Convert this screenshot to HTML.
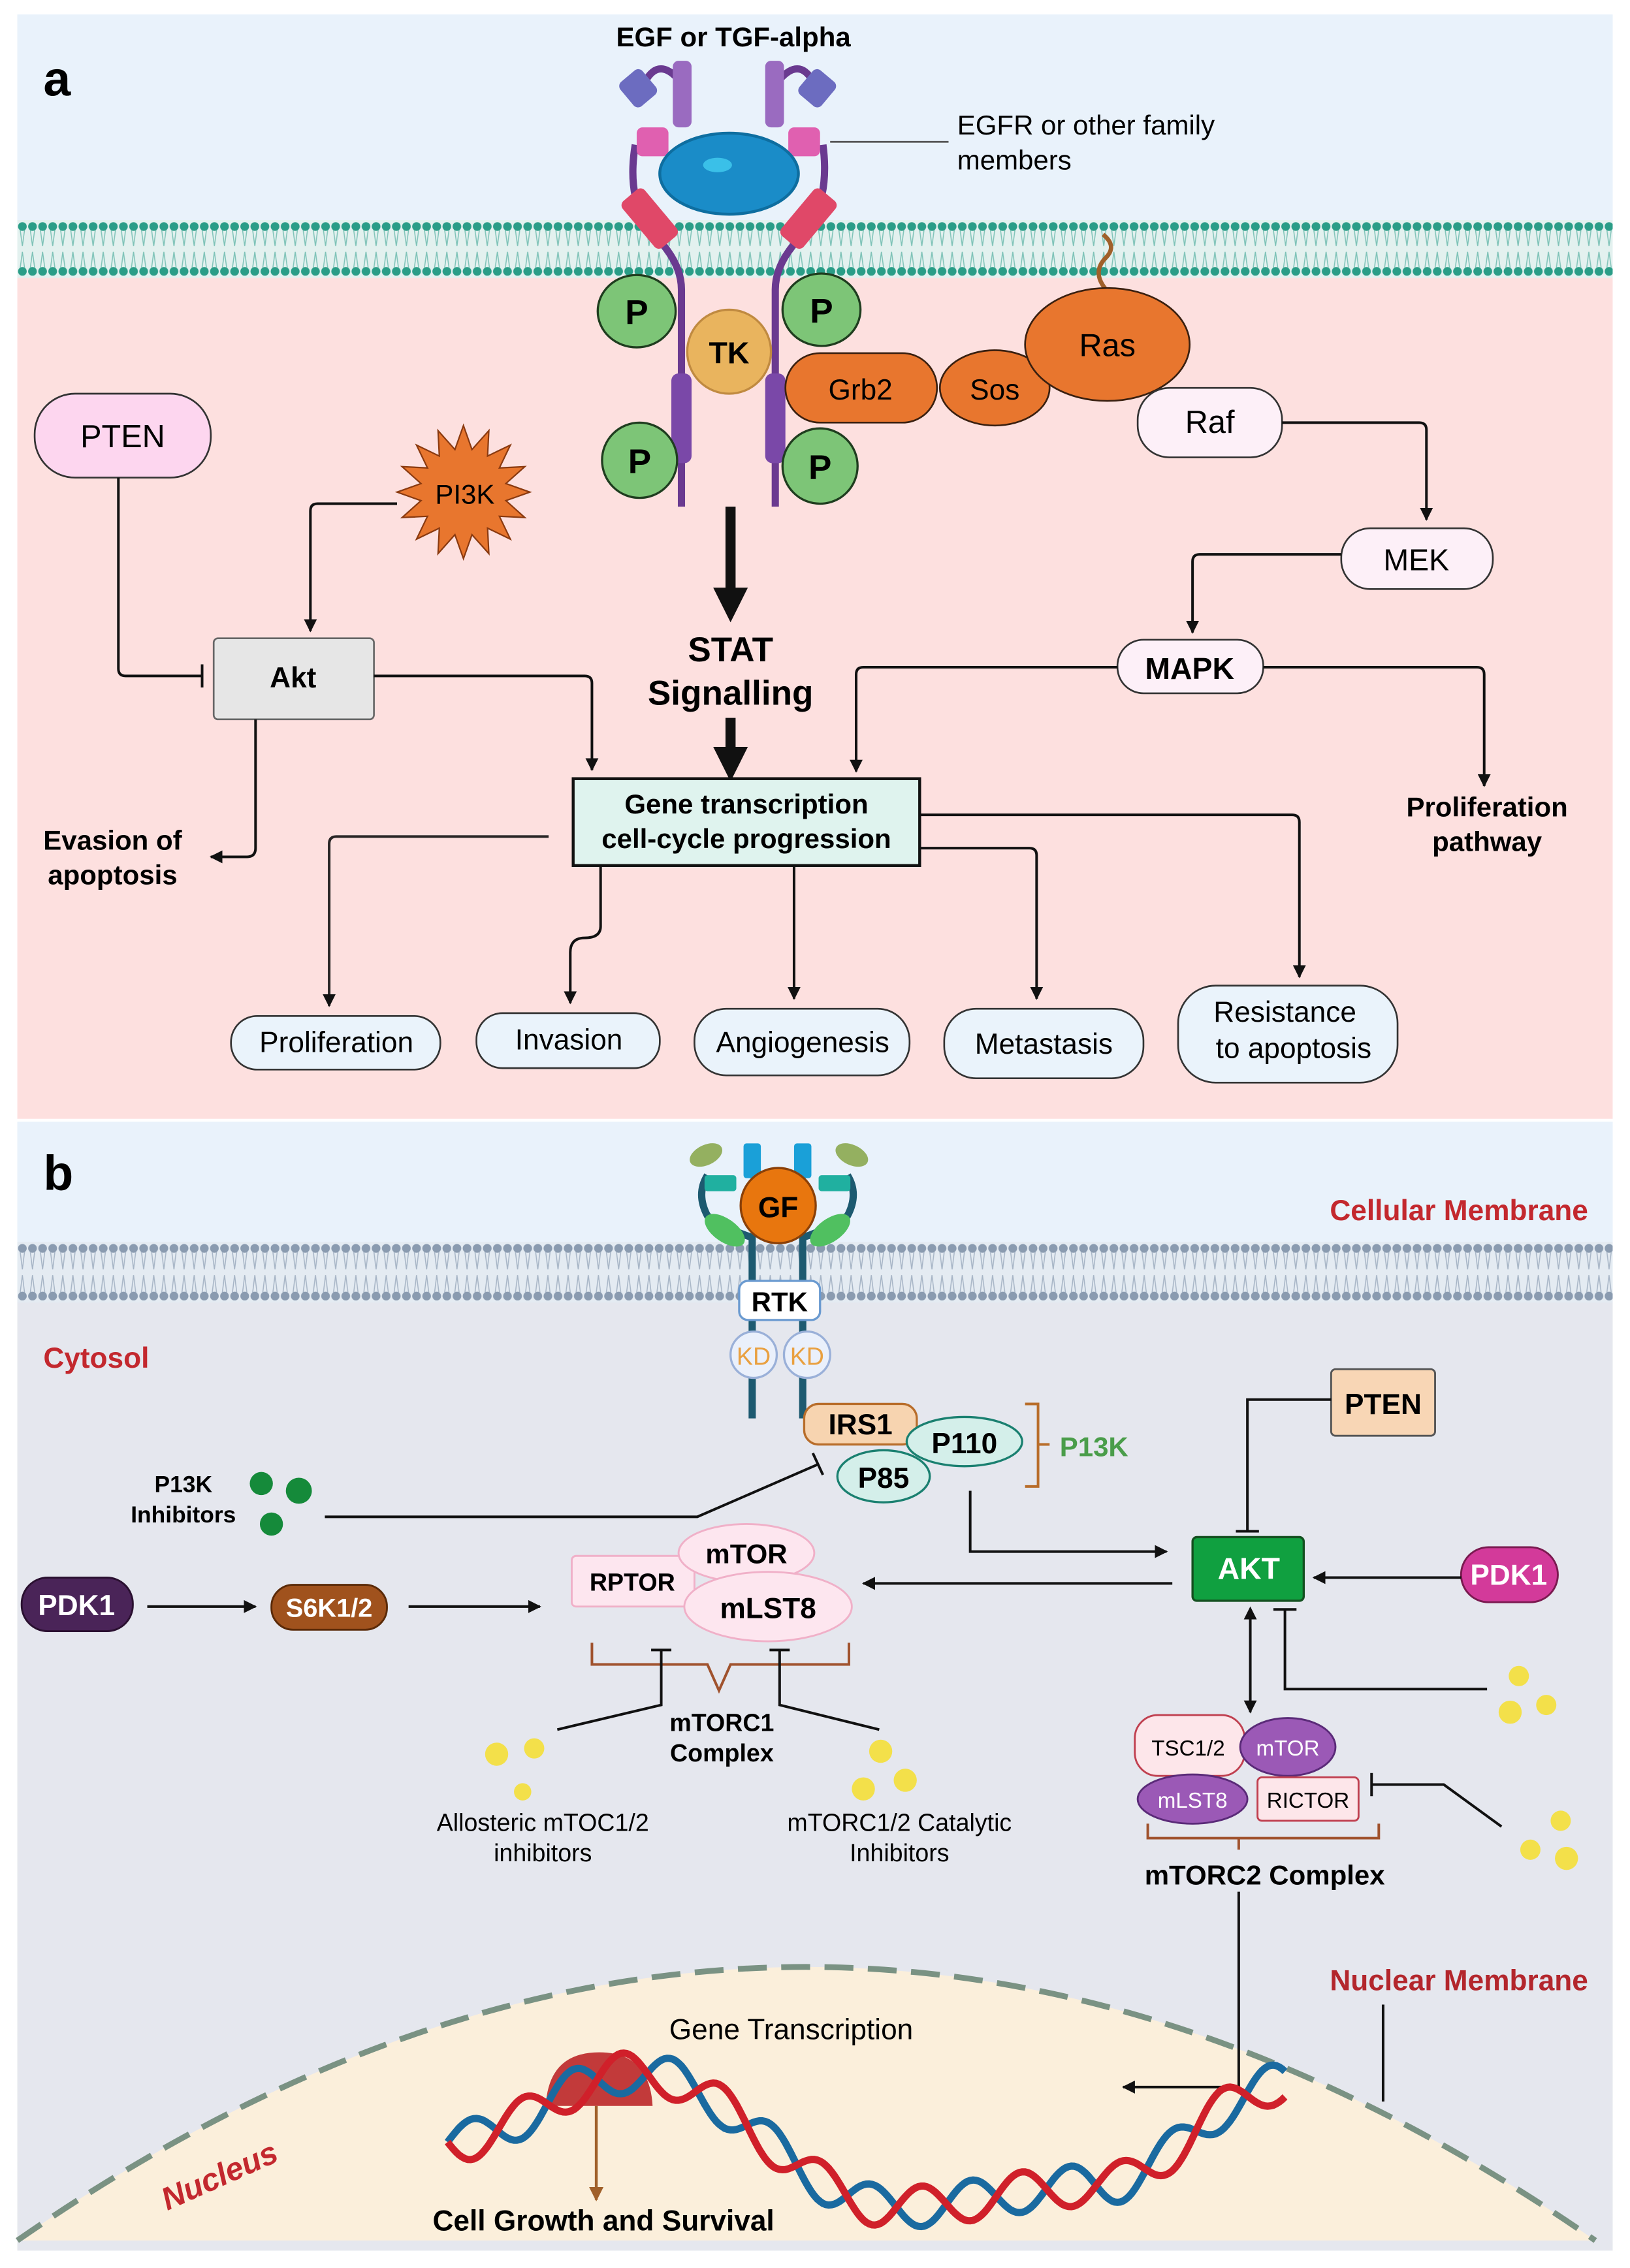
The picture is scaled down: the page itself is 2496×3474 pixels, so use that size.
<!DOCTYPE html>
<html><head><meta charset="utf-8"><style>
html,body{margin:0;padding:0;background:#fff}
svg{display:block}
text{font-family:"Liberation Sans Narrow","Liberation Sans",sans-serif}
.b{font-weight:bold}
</style></head><body>
<svg id="s" width="2496" height="3474" viewBox="0 0 1129 1567" preserveAspectRatio="none" xmlns="http://www.w3.org/2000/svg">
<defs>
<pattern id="memA" x="12" y="152" width="7" height="40" patternUnits="userSpaceOnUse">
<rect width="7" height="40" fill="#e3f1ef"/>
<path d="M2,7 L3.5,18 M5,7 L3.5,18 M2,33 L3.5,22 M5,33 L3.5,22" stroke="#7fc3b8" stroke-width="0.7" fill="none"/>
<circle cx="3.5" cy="4.5" r="3" fill="#2a9d87"/><circle cx="3.5" cy="35.5" r="3" fill="#2a9d87"/>
</pattern>
<pattern id="memB" x="12" y="858" width="7" height="42" patternUnits="userSpaceOnUse">
<rect width="7" height="42" fill="#e4ebf2"/>
<path d="M2,7 L3.5,19 M5,7 L3.5,19 M2,35 L3.5,23 M5,35 L3.5,23" stroke="#a7b5c6" stroke-width="0.7" fill="none"/>
<circle cx="3.5" cy="4.5" r="3" fill="#8a9bb0"/><circle cx="3.5" cy="37.5" r="3" fill="#8a9bb0"/>
</pattern>
<marker id="ar" viewBox="0 0 10 10" refX="9" refY="5" markerWidth="5" markerHeight="5" orient="auto"><path d="M0,0 L10,5 L0,10 z" fill="#111"/></marker>
<marker id="arB" viewBox="0 0 10 10" refX="9" refY="5" markerWidth="5" markerHeight="5" orient="auto"><path d="M0,0 L10,5 L0,10 z" fill="#a0602a"/></marker>
<marker id="arS" viewBox="0 0 10 10" refX="1" refY="5" markerWidth="5" markerHeight="5" orient="auto-start-reverse"><path d="M0,0 L10,5 L0,10 z" fill="#111"/></marker>
</defs>

<!-- PANEL A -->
<rect x="12" y="10" width="1105" height="145" fill="#e9f2fb"/>
<rect x="12" y="190" width="1105" height="583" fill="#fde0df"/>
<rect x="12" y="152" width="1105" height="40" fill="url(#memA)"/>

<text x="30" y="66" class="b" font-size="34">a</text>
<text x="508" y="32" class="b" font-size="19" text-anchor="middle">EGF or TGF-alpha</text>
<line x1="575" y1="98" x2="657" y2="98" stroke="#555" stroke-width="1.2"/>
<text x="663" y="93" font-size="19">EGFR or other family</text>
<text x="663" y="117" font-size="19">members</text>

<!-- receptor -->
<g stroke="#6a3a90" stroke-width="5" fill="none">
<path d="M472,350 L472,200 Q472,185 460,170 L445,150 Q435,130 440,100"/>
<path d="M537,350 L537,200 Q537,185 549,170 L564,150 Q574,130 570,100"/>
<path d="M445,60 Q455,38 470,55"/><path d="M565,60 Q555,38 540,55"/>
</g>
<rect x="466" y="42" width="13" height="46" rx="4" fill="#9a6bc0"/>
<rect x="530" y="42" width="13" height="46" rx="4" fill="#9a6bc0"/>
<rect x="432" y="50" width="20" height="22" rx="4" fill="#6c6cc0" transform="rotate(-40 442 61)"/>
<rect x="556" y="50" width="20" height="22" rx="4" fill="#6c6cc0" transform="rotate(40 566 61)"/>
<rect x="441" y="88" width="22" height="20" rx="4" fill="#e060b0"/>
<rect x="546" y="88" width="22" height="20" rx="4" fill="#e060b0"/>
<rect x="440" y="130" width="20" height="42" rx="4" fill="#e04868" transform="rotate(-40 450 151)"/>
<rect x="550" y="130" width="20" height="42" rx="4" fill="#e04868" transform="rotate(40 560 151)"/>
<ellipse cx="505" cy="120" rx="48" ry="28" fill="#1a8cc8" stroke="#0e6ea0" stroke-width="2"/>
<ellipse cx="497" cy="114" rx="10" ry="5" fill="#3ac0e8"/>
<rect x="465" y="258" width="14" height="62" rx="5" fill="#7a48a8"/>
<rect x="530" y="258" width="14" height="62" rx="5" fill="#7a48a8"/>

<g stroke="#1f3d1f" stroke-width="1.5" fill="#7dc577">
<ellipse cx="441" cy="215" rx="27" ry="25"/><ellipse cx="569" cy="214" rx="27" ry="25"/>
<ellipse cx="443" cy="318" rx="26" ry="26"/><ellipse cx="568" cy="322" rx="26" ry="26"/>
</g>
<g class="b" font-size="24" text-anchor="middle">
<text x="441" y="224">P</text><text x="569" y="223">P</text><text x="443" y="327">P</text><text x="568" y="331">P</text>
</g>
<circle cx="505" cy="243" r="29" fill="#e9b45e" stroke="#c08a40" stroke-width="1.5"/>
<text x="505" y="251" class="b" font-size="21" text-anchor="middle">TK</text>

<path d="M766,200 Q756,188 766,178 Q774,170 764,162" stroke="#a0602a" stroke-width="3" fill="none"/>
<rect x="544" y="244" width="105" height="48" rx="24" fill="#e8762e" stroke="#3a2010" stroke-width="1.2"/>
<text x="596" y="276" font-size="20" text-anchor="middle">Grb2</text>
<ellipse cx="689" cy="268" rx="38" ry="26" fill="#e8762e" stroke="#3a2010" stroke-width="1.2"/>
<text x="689" y="276" font-size="20" text-anchor="middle">Sos</text>
<ellipse cx="767" cy="238" rx="57" ry="39" fill="#e8762e" stroke="#3a2010" stroke-width="1.2"/>
<text x="767" y="246" font-size="22" text-anchor="middle">Ras</text>
<rect x="788" y="268" width="100" height="48" rx="22" fill="#fdf0f8" stroke="#333" stroke-width="1.2"/>
<text x="838" y="299" font-size="22" text-anchor="middle">Raf</text>

<rect x="24" y="272" width="122" height="58" rx="28" fill="#fdd6ef" stroke="#333" stroke-width="1.2"/>
<text x="85" y="309" font-size="22" text-anchor="middle">PTEN</text>
<path id="star" fill="#e8762e" stroke="#8a3a10" stroke-width="1"/>
<text x="322" y="348" font-size="19" text-anchor="middle">PI3K</text>
<rect x="148" y="441" width="111" height="56" rx="3" fill="#e6e6e6" stroke="#666" stroke-width="1.2"/>
<text x="203" y="475" class="b" font-size="20" text-anchor="middle">Akt</text>
<rect x="929" y="365" width="105" height="42" rx="20" fill="#fdf0f8" stroke="#333" stroke-width="1.2"/>
<text x="981" y="394" font-size="21" text-anchor="middle">MEK</text>
<rect x="774" y="442" width="101" height="37" rx="18" fill="#fdf0f8" stroke="#333" stroke-width="1.2"/>
<text x="824" y="469" class="b" font-size="21" text-anchor="middle">MAPK</text>

<text x="506" y="457" class="b" font-size="24" text-anchor="middle">STAT</text>
<text x="506" y="487" class="b" font-size="24" text-anchor="middle">Signalling</text>
<line x1="506" y1="350" x2="506" y2="410" stroke="#111" stroke-width="7"/>
<path d="M494,406 L518,406 L506,430 z" fill="#111"/>
<line x1="506" y1="496" x2="506" y2="520" stroke="#111" stroke-width="7"/>
<path d="M494,516 L518,516 L506,540 z" fill="#111"/>

<rect x="397" y="538" width="240" height="60" fill="#dff3ee" stroke="#111" stroke-width="2"/>
<text x="517" y="562" class="b" font-size="19" text-anchor="middle">Gene transcription</text>
<text x="517" y="586" class="b" font-size="19" text-anchor="middle">cell-cycle progression</text>
<text x="78" y="587" class="b" font-size="19" text-anchor="middle">Evasion of</text>
<text x="78" y="611" class="b" font-size="19" text-anchor="middle">apoptosis</text>
<text x="1030" y="564" class="b" font-size="19" text-anchor="middle">Proliferation</text>
<text x="1030" y="588" class="b" font-size="19" text-anchor="middle">pathway</text>

<g fill="#eaf3fb" stroke="#333" stroke-width="1.2">
<rect x="160" y="702" width="145" height="37" rx="18"/>
<rect x="330" y="700" width="127" height="38" rx="18"/>
<rect x="481" y="697" width="149" height="46" rx="22"/>
<rect x="654" y="697" width="138" height="48" rx="22"/>
<rect x="816" y="681" width="152" height="67" rx="26"/>
</g>
<g font-size="20" text-anchor="middle">
<text x="233" y="727">Proliferation</text>
<text x="394" y="725">Invasion</text>
<text x="556" y="727">Angiogenesis</text>
<text x="723" y="728">Metastasis</text>
<text x="890" y="706">Resistance</text>
<text x="896" y="731">to apoptosis</text>
</g>

<g stroke="#111" stroke-width="1.8" fill="none">
<path d="M82,330 L82,462 Q82,467 87,467 L140,467"/>
<line x1="140" y1="459" x2="140" y2="475"/>
<path d="M275,348 L220,348 Q215,348 215,353 L215,436" marker-end="url(#ar)"/>
<path d="M259,467 L405,467 Q410,467 410,472 L410,532" marker-end="url(#ar)"/>
<path d="M177,497 L177,586 Q177,592 171,592 L146,592" marker-end="url(#ar)"/>
<path d="M888,292 L983,292 Q988,292 988,297 L988,359" marker-end="url(#ar)"/>
<path d="M929,383 L831,383 Q826,383 826,388 L826,437" marker-end="url(#ar)"/>
<path d="M774,461 L598,461 Q593,461 593,466 L593,533" marker-end="url(#ar)"/>
<path d="M875,461 L1023,461 Q1028,461 1028,466 L1028,543" marker-end="url(#ar)"/>
<path d="M380,578 L233,578 Q228,578 228,583 L228,695" marker-end="url(#ar)" stroke-opacity="0.9"/>
<path d="M416,598 L416,640 Q416,648 405,648 Q395,648 395,658 L395,693" marker-end="url(#ar)"/>
<path d="M550,598 L550,690" marker-end="url(#ar)"/>
<path d="M637,586 L713,586 Q718,586 718,591 L718,690" marker-end="url(#ar)"/>
<path d="M637,563 L895,563 Q900,563 900,568 L900,675" marker-end="url(#ar)"/>
</g>

<!-- PANEL B -->
<rect x="12" y="775" width="1105" height="85" fill="#e9f2fb"/>
<rect x="12" y="898" width="1105" height="657" fill="#e5e7ee"/>
<rect x="12" y="858" width="1105" height="42" fill="url(#memB)"/>
<path d="M12,1548 Q558,1170 1105,1548 Z" fill="#fbefdb"/>
<path d="M12,1548 Q558,1170 1105,1548" fill="none" stroke="#7a9283" stroke-width="4" stroke-dasharray="20 10"/>

<text x="30" y="822" class="b" font-size="34">b</text>
<text x="1100" y="843" class="b" font-size="20" fill="#c3282e" text-anchor="end">Cellular Membrane</text>
<text x="30" y="945" class="b" font-size="20" fill="#c3282e">Cytosol</text>

<!-- RTK receptor -->
<g stroke="#1d5a70" stroke-width="5" fill="none">
<path d="M521,980 L521,855 Q505,850 490,840 Q482,825 490,812"/>
<path d="M556,980 L556,855 Q572,850 587,840 Q595,825 587,812"/>
</g>
<ellipse cx="489" cy="798" rx="12" ry="7" fill="#94b060" transform="rotate(-25 489 798)"/>
<ellipse cx="590" cy="798" rx="12" ry="7" fill="#94b060" transform="rotate(25 590 798)"/>
<rect x="515" y="790" width="12" height="24" rx="2" fill="#1aa0d8"/>
<rect x="550" y="790" width="12" height="24" rx="2" fill="#1aa0d8"/>
<rect x="488" y="812" width="22" height="11" rx="2" fill="#20b0a0"/>
<rect x="567" y="812" width="22" height="11" rx="2" fill="#20b0a0"/>
<ellipse cx="502" cy="850" rx="16" ry="8" fill="#50c060" transform="rotate(35 502 850)"/>
<ellipse cx="575" cy="850" rx="16" ry="8" fill="#50c060" transform="rotate(-35 575 850)"/>
<circle cx="539" cy="833" r="26" fill="#e8760e" stroke="#8a4008" stroke-width="1.5"/>
<text x="539" y="841" class="b" font-size="20" text-anchor="middle">GF</text>
<rect x="512" y="885" width="56" height="27" rx="6" fill="#fff" stroke="#6a9ad0" stroke-width="1.5"/>
<text x="540" y="906" class="b" font-size="19" text-anchor="middle">RTK</text>
<circle cx="522" cy="936" r="16" fill="#eaf0fb" stroke="#9ab0d8" stroke-width="1.5"/>
<circle cx="559" cy="936" r="16" fill="#eaf0fb" stroke="#9ab0d8" stroke-width="1.5"/>
<text x="522" y="943" font-size="17" fill="#e9a040" text-anchor="middle">KD</text>
<text x="559" y="943" font-size="17" fill="#e9a040" text-anchor="middle">KD</text>

<rect x="557" y="970" width="78" height="28" rx="10" fill="#f7d4b0" stroke="#b86d2a" stroke-width="1.5"/>
<text x="596" y="991" class="b" font-size="20" text-anchor="middle">IRS1</text>
<ellipse cx="668" cy="996" rx="40" ry="17" fill="#d4efea" stroke="#1a8070" stroke-width="1.5"/>
<text x="668" y="1004" class="b" font-size="20" text-anchor="middle">P110</text>
<ellipse cx="612" cy="1020" rx="32" ry="18" fill="#d4efea" stroke="#1a8070" stroke-width="1.5"/>
<text x="612" y="1028" class="b" font-size="20" text-anchor="middle">P85</text>
<path d="M710,970 L719,970 L719,1027 L710,1027 M719,998 L727,998" stroke="#b86d2a" stroke-width="1.8" fill="none"/>
<text x="734" y="1006" class="b" font-size="19" fill="#4a9d4a">P13K</text>

<rect x="922" y="946" width="72" height="46" rx="3" fill="#f8d6b5" stroke="#555" stroke-width="1.3"/>
<text x="958" y="977" class="b" font-size="20" text-anchor="middle">PTEN</text>

<text x="127" y="1031" class="b" font-size="16" text-anchor="middle">P13K</text>
<text x="127" y="1052" class="b" font-size="16" text-anchor="middle">Inhibitors</text>
<g fill="#158a3a"><circle cx="181" cy="1025" r="8"/><circle cx="207" cy="1030" r="9"/><circle cx="188" cy="1053" r="8"/></g>

<rect x="826" y="1062" width="77" height="44" rx="3" fill="#10a040" stroke="#145020" stroke-width="1.5"/>
<text x="865" y="1091" class="b" font-size="21" fill="#fff" text-anchor="middle">AKT</text>
<rect x="1012" y="1069" width="67" height="38" rx="19" fill="#d33a9a" stroke="#7a1a50" stroke-width="1.3"/>
<text x="1045" y="1095" class="b" font-size="20" fill="#fff" text-anchor="middle">PDK1</text>
<rect x="15" y="1090" width="77" height="37" rx="18" fill="#4a2458" stroke="#2a1030" stroke-width="1.3"/>
<text x="53" y="1116" class="b" font-size="20" fill="#fff" text-anchor="middle">PDK1</text>
<rect x="188" y="1095" width="80" height="31" rx="15" fill="#a0521d" stroke="#5a2a08" stroke-width="1.3"/>
<text x="228" y="1117" class="b" font-size="18" fill="#fff" text-anchor="middle">S6K1/2</text>

<rect x="396" y="1075" width="85" height="35" rx="3" fill="#fde6ef" stroke="#f0b0c8" stroke-width="1.3"/>
<text x="438" y="1099" class="b" font-size="17" text-anchor="middle">RPTOR</text>
<ellipse cx="517" cy="1073" rx="47" ry="20" fill="#fde6ef" stroke="#f0b0c8" stroke-width="1.3"/>
<text x="517" y="1080" class="b" font-size="19" text-anchor="middle">mTOR</text>
<ellipse cx="532" cy="1110" rx="58" ry="24" fill="#fde6ef" stroke="#f0b0c8" stroke-width="1.3"/>
<text x="532" y="1118" class="b" font-size="20" text-anchor="middle">mLST8</text>
<path d="M410,1135 L410,1150 L490,1150 L498,1168 L506,1150 L588,1150 L588,1135" stroke="#a0522d" stroke-width="1.8" fill="none"/>
<text x="500" y="1196" class="b" font-size="17" text-anchor="middle">mTORC1</text>
<text x="500" y="1217" class="b" font-size="17" text-anchor="middle">Complex</text>
<g fill="#f3e04a"><circle cx="344" cy="1212" r="8"/><circle cx="370" cy="1208" r="7"/><circle cx="362" cy="1238" r="6"/>
<circle cx="610" cy="1210" r="8"/><circle cx="598" cy="1236" r="8"/><circle cx="627" cy="1230" r="8"/>
<circle cx="1052" cy="1158" r="7"/><circle cx="1046" cy="1183" r="8"/><circle cx="1071" cy="1178" r="7"/>
<circle cx="1081" cy="1258" r="7"/><circle cx="1060" cy="1278" r="7"/><circle cx="1085" cy="1284" r="8"/></g>
<text x="376" y="1265" font-size="17" text-anchor="middle">Allosteric mTOC1/2</text>
<text x="376" y="1286" font-size="17" text-anchor="middle">inhibitors</text>
<text x="623" y="1265" font-size="17" text-anchor="middle">mTORC1/2 Catalytic</text>
<text x="623" y="1286" font-size="17" text-anchor="middle">Inhibitors</text>

<rect x="786" y="1185" width="76" height="42" rx="16" fill="#fde6ea" stroke="#c04050" stroke-width="1.3"/>
<text x="823" y="1213" font-size="15" text-anchor="middle">TSC1/2</text>
<ellipse cx="892" cy="1207" rx="33" ry="20" fill="#9b59b6" stroke="#5a2a78" stroke-width="1.3"/>
<text x="892" y="1213" font-size="15" fill="#fff" text-anchor="middle">mTOR</text>
<ellipse cx="826" cy="1243" rx="38" ry="17" fill="#9b59b6" stroke="#5a2a78" stroke-width="1.3"/>
<text x="826" y="1249" font-size="15" fill="#fff" text-anchor="middle">mLST8</text>
<rect x="871" y="1228" width="70" height="30" rx="3" fill="#fde6ea" stroke="#c04050" stroke-width="1.3"/>
<text x="906" y="1249" font-size="15" text-anchor="middle">RICTOR</text>
<path d="M795,1260 L795,1270 L955,1270 L955,1260 M858,1270 L858,1278" stroke="#a0522d" stroke-width="1.8" fill="none"/>
<text x="876" y="1302" class="b" font-size="19" text-anchor="middle">mTORC2 Complex</text>

<g stroke="#111" stroke-width="1.8" fill="none">
<path d="M225,1048 L483,1048 L566,1012"/><line x1="563" y1="1004" x2="570" y2="1019"/>
<path d="M922,967 L864,967 L864,1058"/><line x1="856" y1="1058" x2="872" y2="1058"/>
<path d="M672,1030 L672,1072 L808,1072" marker-end="url(#ar)"/>
<path d="M1012,1090 L910,1090" marker-end="url(#ar)"/>
<path d="M812,1094 L598,1094" marker-end="url(#ar)"/>
<path d="M102,1110 L177,1110" marker-end="url(#ar)"/>
<path d="M283,1110 L374,1110" marker-end="url(#ar)"/>
<path d="M458,1140 L458,1178 L386,1195"/><line x1="451" y1="1140" x2="465" y2="1140"/>
<path d="M540,1140 L540,1178 L609,1195"/><line x1="533" y1="1140" x2="547" y2="1140"/>
<path d="M866,1118 L866,1183" marker-end="url(#ar)" marker-start="url(#arS)"/>
<path d="M890,1112 L890,1167 L1030,1167"/><line x1="882" y1="1112" x2="898" y2="1112"/>
<path d="M950,1233 L1000,1233 L1040,1262"/><line x1="950" y1="1225" x2="950" y2="1241"/>
<path d="M858,1307 L858,1442 L778,1442" marker-end="url(#ar)"/>
<line x1="958" y1="1385" x2="958" y2="1452"/>
</g>
<text x="1100" y="1375" class="b" font-size="20" fill="#b3262c" text-anchor="end">Nuclear Membrane</text>
<text x="155" y="1510" class="b" font-size="22" fill="#c3282e" font-style="italic" transform="rotate(-24 155 1510)" text-anchor="middle">Nucleus</text>
<text x="548" y="1409" font-size="20" text-anchor="middle">Gene Transcription</text>
<path d="M378,1455 Q380,1418 415,1418 Q450,1418 452,1455 Z" fill="#c23a3a"/>
<path id="dnaB" fill="none" stroke="#1a6aa0" stroke-width="5"/>
<path id="dnaR" fill="none" stroke="#d0202a" stroke-width="5"/>
<path d="M413,1455 L413,1520" stroke="#a0602a" stroke-width="2" marker-end="url(#arB)"/>
<text x="418" y="1541" class="b" font-size="20" text-anchor="middle">Cell Growth and Survival</text>
</svg>
<script>
(function(){
 // star
 var s="",cx=321,cy=340,n=16;
 for(var i=0;i<2*n;i++){var a=Math.PI*i/n,r=(i%2?30:46);s+=(i?"L":"M")+(cx+r*Math.cos(a)).toFixed(1)+","+(cy+r*Math.sin(a)).toFixed(1);}
 document.getElementById("star").setAttribute("d",s+"Z");
 // DNA
 function base(x){
  var pts=[[310,1480],[440,1432],[620,1525],[760,1510],[890,1440]];
  for(var k=0;k<pts.length-1;k++){if(x<=pts[k+1][0]){var t=(x-pts[k][0])/(pts[k+1][0]-pts[k][0]);t=(1-Math.cos(Math.PI*t))/2;return pts[k][1]+(pts[k+1][1]-pts[k][1])*t;}}
  return 1440;}
 var r="",b="";
 for(var x=310;x<=890;x+=2){var y=base(x),o=14*Math.sin((x-310)/11);
  r+=(x==310?"M":"L")+x+","+(y+o).toFixed(1);b+=(x==310?"M":"L")+x+","+(y-o).toFixed(1);}
 document.getElementById("dnaR").setAttribute("d",r);
 document.getElementById("dnaB").setAttribute("d",b);
})();
</script>
</body></html>
